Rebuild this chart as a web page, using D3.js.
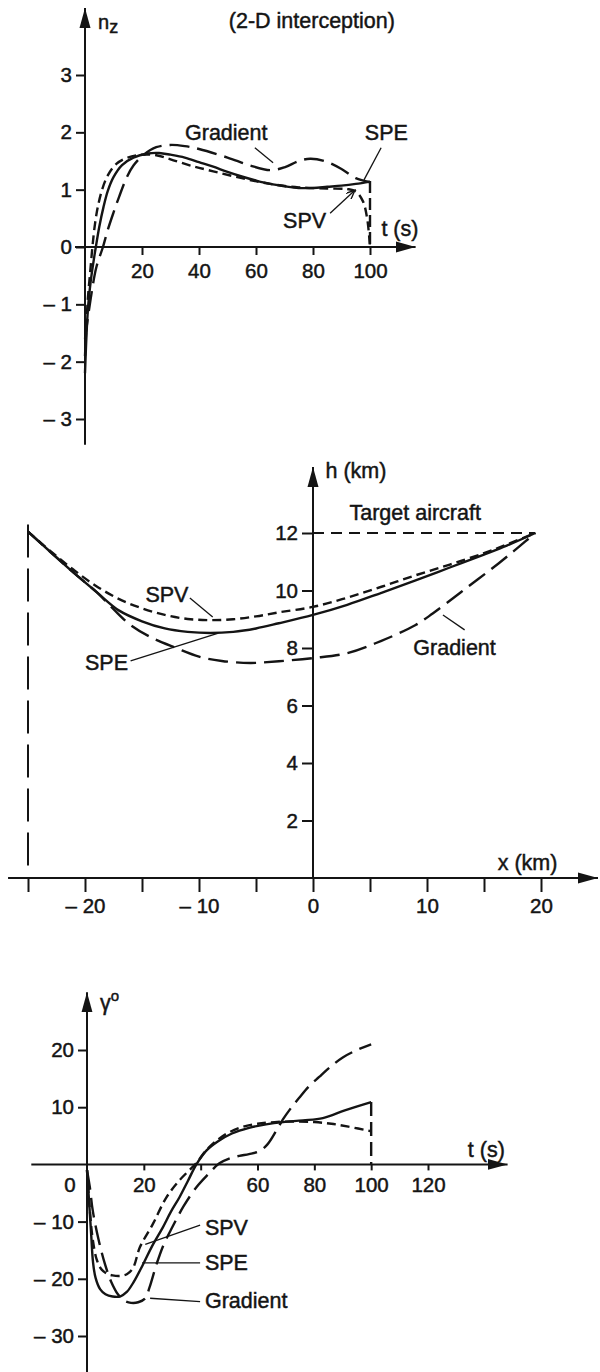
<!DOCTYPE html>
<html>
<head>
<meta charset="utf-8">
<script src="https://cdn.jsdelivr.net/npm/d3@7"></script>
<style>
  body { margin: 0; background: #fff; }
</style>
</head>
<body>
<svg id="chart"></svg>
<script>
const WIDTH = 600;
const HEIGHT = 1372;
const INK = "#141414";
const FONT = "'Liberation Sans', Arial, sans-serif";

// load factor n_z against time
const NZ_T_TICKS = [20, 40, 60, 80, 100];
const NZ_TICKS = [-3, -2, -1, 0, 1, 2, 3];
const NZ_SPE = [[0, -2.2], [1, -1.1], [2, -0.6], [3, -0.25], [3.8, 0], [5, 0.35], [6.5, 0.7], [8, 0.98],
  [10, 1.22], [13, 1.43], [17, 1.56], [22, 1.63], [26, 1.64], [30, 1.61], [35, 1.56], [40, 1.48],
  [45, 1.4], [50, 1.31], [55, 1.23], [60, 1.16], [65, 1.1], [70, 1.06], [75, 1.03], [80, 1.03],
  [85, 1.05], [90, 1.07], [95, 1.1], [100, 1.14]];
const NZ_SPV = [[0, -1.9], [1, -0.9], [1.8, -0.45], [2.6, 0], [3.5, 0.4], [4.5, 0.7], [6, 1.0], [8, 1.25],
  [11, 1.45], [15, 1.56], [20, 1.61], [25, 1.6], [30, 1.53], [37, 1.42], [45, 1.32], [55, 1.2],
  [65, 1.1], [75, 1.04], [85, 1.02], [92, 1.01], [95, 0.97], [97.5, 0.8], [99, 0.5], [100, 0]];
const NZ_GRADIENT = [[0, -1.6], [2, -0.9], [4, -0.35], [6.3, 0], [8, 0.3], [10, 0.6], [12, 0.88], [14.7, 1.22],
  [17, 1.42], [20.4, 1.6], [25, 1.74], [30, 1.78], [35, 1.76], [40, 1.71], [50, 1.56], [58, 1.42],
  [65, 1.34], [70, 1.39], [75, 1.5], [79, 1.54], [84, 1.5], [90, 1.36], [95, 1.2], [100, 1.13]];
const NZ_DROP = [[100, 1.15], [100, 0]];

// trajectory h against x
const H_X_TICKS = [-25, -20, -15, -10, -5, 0, 5, 10, 15, 20];
const H_X_LABELS = [-20, -10, 0, 10, 20];
const H_TICKS = [2, 4, 6, 8, 10, 12];
const H_SPE = [[-25, 12.05], [-23, 11.33], [-21, 10.62], [-19, 9.95], [-17, 9.3], [-15, 8.93], [-13, 8.68],
  [-11, 8.56], [-9, 8.52], [-7, 8.56], [-5, 8.68], [-3, 8.86], [0, 9.15], [3, 9.5], [6, 9.92],
  [9, 10.35], [12, 10.8], [15, 11.25], [17, 11.56], [19.5, 12.0]];
const H_SPV = [[-25, 12.05], [-23, 11.36], [-21, 10.72], [-19, 10.15], [-17, 9.7], [-15, 9.38], [-13, 9.15],
  [-11, 9.01], [-9, 8.97], [-7, 9.0], [-5, 9.1], [-3, 9.24], [0, 9.43], [3, 9.75], [6, 10.13],
  [9, 10.53], [12, 10.9], [15, 11.3], [17, 11.6], [19.5, 12.0]];
const H_GRADIENT = [[-25, 12.05], [-23, 11.33], [-21, 10.62], [-19, 9.95], [-17.5, 9.35], [-16, 8.8],
  [-14, 8.33], [-12, 8.0], [-10, 7.7], [-8, 7.55], [-5.5, 7.48], [-3, 7.54], [0, 7.65], [3, 7.82],
  [6, 8.25], [9, 8.8], [10.5, 9.2], [13, 9.95], [16.3, 10.95], [18, 11.5], [19.5, 12.0]];
const H_TARGET = [[0, 12], [19.5, 12]];
const H_START = [[-25, 12.3], [-25, 0.35]];

// flight path angle gamma against time
const GAMMA_T_TICKS = [20, 40, 60, 80, 100, 120];
const GAMMA_T_LABELS = [20, 60, 80, 100, 120];
const GAMMA_TICKS = [-30, -20, -10, 10, 20];
const GAMMA_SPE = [[0, -1], [0.8, -7], [1.5, -12.5], [2.1, -17], [3, -19.8], [4.6, -21.8], [6.5, -22.7],
  [9, -23.1], [11.6, -23.1], [14, -22.3], [16.5, -20.5], [19.8, -17.4], [23, -14.2], [26.7, -11],
  [29.5, -8.3], [32.6, -5.7], [35.5, -2.9], [38.5, 0], [42, 2.4], [46, 4.0], [51, 5.4], [57, 6.4],
  [63, 7.0], [69, 7.4], [76, 7.7], [83, 8.1], [91, 9.5], [100, 10.9]];
const GAMMA_SPV = [[0, -1], [1, -8], [2, -13], [3.4, -16.6], [5, -18.3], [7, -19.1], [9, -19.4],
  [11.6, -19.5], [14, -19.2], [16.2, -18.1], [18.6, -14.5], [23.2, -10.4], [27.9, -5.8], [32.5, -2.8],
  [38.4, 0.2], [42, 2.5], [46, 4.3], [50, 5.6], [55, 6.6], [60, 7.1], [66, 7.4], [73, 7.5],
  [80, 7.4], [86, 7.1], [92, 6.6], [100, 5.8]];
const GAMMA_GRADIENT = [[0, -1], [1, -4], [2, -8], [4, -13], [6.3, -17.4], [8.5, -20.5], [11, -22.8],
  [13, -23.8], [15.5, -24.2], [18, -24.1], [20.5, -23.4], [22, -21.5], [24.5, -17.4], [27, -14],
  [30, -11], [34, -7.3], [38.5, -4], [42.5, -1.8], [46.6, 0.2], [50, 1.0], [53.6, 1.5], [57, 1.8],
  [60.6, 2.3], [63.5, 3.5], [66.5, 5.8], [69, 7.9], [72, 10], [74.6, 11.6], [78, 13.6], [81.7, 15.3],
  [86, 17.2], [90, 18.7], [95, 20.0], [100, 21]];
const GAMMA_DROP = [[100, 10.9], [100, 0]];

const svg = d3.select("#chart")
  .attr("width", WIDTH)
  .attr("height", HEIGHT)
  .style("background", "#fff");

const defs = svg.append("defs");
defs.append("marker")
  .attr("id", "arrow")
  .attr("markerUnits", "userSpaceOnUse")
  .attr("markerWidth", 22).attr("markerHeight", 14)
  .attr("refX", 20).attr("refY", 7)
  .attr("orient", "auto")
  .append("path").attr("d", "M0,1.5 L20,7 L0,12.5 Z").attr("fill", INK);
defs.append("marker")
  .attr("id", "arrow-small")
  .attr("markerUnits", "userSpaceOnUse")
  .attr("markerWidth", 10).attr("markerHeight", 8)
  .attr("refX", 9).attr("refY", 4)
  .attr("orient", "auto")
  .append("path").attr("d", "M0,0 L9,4 L0,8").attr("fill", "none").attr("stroke", INK).attr("stroke-width", 1.4);

const STYLE = {
  spe: { width: 2.4, dash: null },
  spv: { width: 2.4, dash: "9,5" },
  gradient: { width: 2.4, dash: "20,8" },
};

const fmt = d => (d < 0 ? "\u2013 " + Math.abs(d) : String(d));

function arrowAxis(x1, y1, x2, y2) {
  svg.append("line")
    .attr("x1", x1).attr("y1", y1).attr("x2", x2).attr("y2", y2)
    .attr("stroke", INK).attr("stroke-width", 2)
    .attr("marker-end", "url(#arrow)");
}

function ticks(axis, transform) {
  const g = svg.append("g")
    .attr("transform", transform)
    .call(axis);
  g.select(".domain").remove();
  g.attr("font-size", 20.5).attr("font-family", FONT).attr("color", INK);
  g.selectAll("line").attr("stroke-width", 2);
  g.selectAll("text").attr("stroke", INK).attr("stroke-width", 0.45);
  return g;
}

function curve(data, x, y, style) {
  const line = d3.line()
    .x(d => x(d[0]))
    .y(d => y(d[1]))
    .curve(d3.curveCatmullRom.alpha(0.5));
  svg.append("path")
    .datum(data)
    .attr("d", line)
    .attr("fill", "none")
    .attr("stroke", INK)
    .attr("stroke-width", style.width)
    .attr("stroke-dasharray", style.dash)
    .attr("stroke-linejoin", "round");
}

function straight(data, x, y, width, dash) {
  svg.append("path")
    .datum(data)
    .attr("d", d3.line().x(d => x(d[0])).y(d => y(d[1])))
    .attr("fill", "none")
    .attr("stroke", INK)
    .attr("stroke-width", width)
    .attr("stroke-dasharray", dash);
}

function label(txt, x, y, size) {
  return svg.append("text")
    .attr("x", x).attr("y", y)
    .attr("font-family", FONT)
    .attr("font-size", size || 21.5)
    .attr("fill", INK)
    .attr("stroke", INK)
    .attr("stroke-width", 0.45)
    .text(txt);
}

function leader(x1, y1, x2, y2, marker) {
  const l = svg.append("line")
    .attr("x1", x1).attr("y1", y1).attr("x2", x2).attr("y2", y2)
    .attr("stroke", INK).attr("stroke-width", 1.3);
  if (marker) l.attr("marker-end", "url(#arrow-small)");
}

function loadFactorChart() {
  const x = d3.scaleLinear().domain([0, 100]).range([85, 370]);
  const y = d3.scaleLinear().domain([-3, 3]).range([419, 75]);

  arrowAxis(x(-3.5), y(0), x(116), y(0));
  arrowAxis(x(0), y(-3.45), x(0), y(4.17));

  ticks(d3.axisLeft(y).tickValues(NZ_TICKS).tickSize(9).tickPadding(4).tickFormat(fmt),
    `translate(${x(0)},0)`);
  ticks(d3.axisBottom(x).tickValues(NZ_T_TICKS).tickSize(8).tickPadding(8),
    `translate(0,${y(0)})`);

  curve(NZ_GRADIENT, x, y, STYLE.gradient);
  curve(NZ_SPV, x, y, STYLE.spv);
  curve(NZ_SPE, x, y, STYLE.spe);
  straight(NZ_DROP, x, y, 2.4, "12,5");

  const nz = label("n", x(4.6), y(3.8), 20);
  nz.append("tspan").attr("dy", 4).attr("font-size", 18).text("z");
  label("(2-D interception)", x(79.6), y(3.82)).attr("text-anchor", "middle");
  label("t (s)", x(104), y(0.2));

  label("Gradient", x(35.1), y(1.87));
  leader(x(59.6), y(1.73), x(66), y(1.47));
  label("SPE", x(98.2), y(1.87));
  leader(x(103.9), y(1.73), x(97.9), y(1.17));
  label("SPV", x(69.5), y(0.33));
  leader(x(86), y(0.59), x(94.7), y(0.99), true);
}

function trajectoryChart() {
  const x = d3.scaleLinear().domain([-25, 20]).range([28, 541]);
  const y = d3.scaleLinear().domain([0, 12]).range([878, 533]);

  arrowAxis(x(-26.75), y(0), x(25), y(0));
  arrowAxis(x(0), y(0), x(0), y(14.3));

  ticks(d3.axisLeft(y).tickValues(H_TICKS).tickSize(11).tickPadding(4),
    `translate(${x(0)},0)`);
  ticks(d3.axisBottom(x).tickValues(H_X_TICKS).tickSize(14).tickPadding(6)
    .tickFormat(d => (H_X_LABELS.includes(d) ? fmt(d) : "")),
    `translate(0,${y(0)})`);

  straight(H_START, x, y, 2, "33,11");
  straight(H_TARGET, x, y, 1.8, "11,7");

  curve(H_GRADIENT, x, y, STYLE.gradient);
  curve(H_SPV, x, y, STYLE.spv);
  curve(H_SPE, x, y, STYLE.spe);

  label("h (km)", x(1.1), y(13.9));
  label("Target aircraft", x(3.2), y(12.45));
  label("x (km)", x(16.2), y(0.28));

  label("SPV", x(-14.7), y(9.6));
  leader(x(-10.8), y(9.74), x(-8.8), y(9.08));
  label("SPE", x(-20), y(7.23));
  leader(x(-16), y(7.55), x(-8.3), y(8.52));
  label("Gradient", x(8.8), y(7.76));
  leader(x(13.3), y(8.63), x(11.4), y(9.15));
}

function pathAngleChart() {
  const x = d3.scaleLinear().domain([0, 120]).range([87, 428]);
  const y = d3.scaleLinear().domain([-30, 20]).range([1336, 1050]);

  arrowAxis(x(-19.6), y(0), x(148), y(0));
  arrowAxis(x(0), y(-36.6), x(0), y(30.1));

  ticks(d3.axisLeft(y).tickValues(GAMMA_TICKS).tickSize(9).tickPadding(4).tickFormat(fmt),
    `translate(${x(0)},0)`);
  ticks(d3.axisBottom(x).tickValues(GAMMA_T_TICKS).tickSize(6).tickPadding(7)
    .tickFormat(d => (GAMMA_T_LABELS.includes(d) ? d : "")),
    `translate(0,${y(0)})`);

  curve(GAMMA_GRADIENT, x, y, STYLE.gradient);
  curve(GAMMA_SPV, x, y, STYLE.spv);
  curve(GAMMA_SPE, x, y, STYLE.spe);
  straight(GAMMA_DROP, x, y, 2.4, "14,6");

  label("0", x(-6), y(-4.8), 20.5).attr("text-anchor", "middle");
  const gam = label("\u03b3", x(4.6), y(27));
  gam.append("tspan").attr("dy", -9).attr("font-size", 15).text("o");
  label("t (s)", x(134), y(1.3));

  label("SPV", x(41.5), y(-12.3));
  leader(x(39.8), y(-10.6), x(20.5), y(-14));
  label("SPE", x(41.5), y(-18.5));
  leader(x(39.8), y(-17.2), x(19.4), y(-17.2));
  label("Gradient", x(41.5), y(-25.1));
  leader(x(39.8), y(-24), x(22.2), y(-23.4));
}

loadFactorChart();
trajectoryChart();
pathAngleChart();
</script>
</body>
</html>
